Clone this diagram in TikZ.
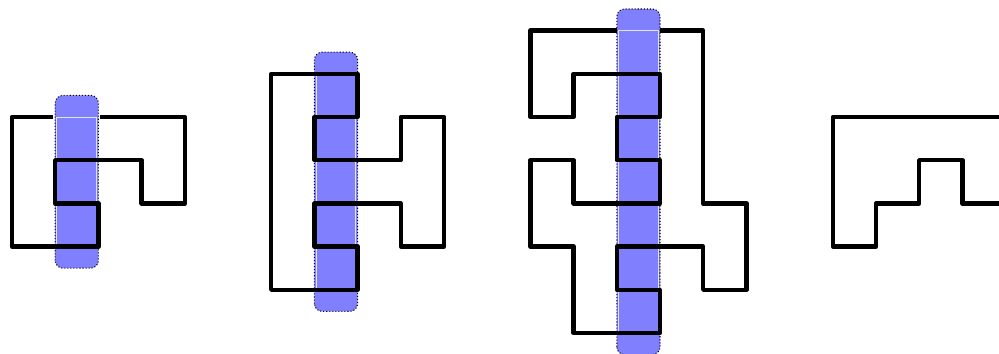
\documentclass[tikz,border=0pt]{standalone}
\definecolor{stripblue}{RGB}{128,128,255}
\tikzset{
  outline/.style={line width=2.9pt, line join=round, line cap=butt},
  stripbg/.style={fill=stripblue, draw=black, line width=0.7pt, dash pattern=on 0.7pt off 1.3pt, rounded corners=0.18cm},
  cellbox/.style={fill=stripblue, draw=white!80!gray, line width=0.6pt},
}
\begin{document}
\begin{tikzpicture}
\useasboundingbox (-0.278,-0.486) rectangle (22.847,7.708);
\clip (-0.278,-0.486) rectangle (22.847,7.708);
% ---------- panel 1 ----------
\draw[stripbg] (1,1.5) rectangle (2,5.5);
\foreach \r in {2,3,4} {\draw[cellbox] (1.04,\r) rectangle (1.96,\r+1);}
\draw[outline] (0.95,5) -- (0,5) -- (0,2) -- (2,2) -- (2,3) -- (1,3) -- (1,4) -- (3,4) -- (3,3) -- (4,3) -- (4,5) -- (2.04,5);
% ---------- panel 2 ----------
\draw[stripbg] (7,0.5) rectangle (8,6.5);
\foreach \r in {1,2,3,4,5} {\draw[cellbox] (7.04,\r) rectangle (7.96,\r+1);}
\draw[outline] (6,6) -- (8,6) -- (8,5) -- (7,5) -- (7,4) -- (9,4) -- (9,5) -- (10,5) -- (10,2) -- (9,2) -- (9,3) -- (7,3) -- (7,2) -- (8,2) -- (8,1) -- (6,1) -- cycle;
% ---------- panel 3 ----------
\draw[stripbg] (14,-0.5) rectangle (15,7.5);
\foreach \r in {0,1,2,3,4,5,6} {\draw[cellbox] (14.04,\r) rectangle (14.96,\r+1);}
\draw[outline] (14,7) -- (12,7) -- (12,5) -- (13,5) -- (13,6) -- (15,6) -- (15,5) -- (14,5) -- (14,4) -- (15,4) -- (15,3) -- (13,3) -- (13,4) -- (12,4) -- (12,2) -- (13,2) -- (13,0) -- (15,0) -- (15,1) -- (14,1) -- (14,2) -- (16,2) -- (16,1) -- (17,1) -- (17,3) -- (16,3) -- (16,7) -- (15,7);
% ---------- panel 4 ----------
\draw[outline] (24,5) -- (19,5) -- (19,2) -- (20,2) -- (20,3) -- (21,3) -- (21,4) -- (22,4) -- (22,3) -- (24,3);
\end{tikzpicture}
\end{document}
